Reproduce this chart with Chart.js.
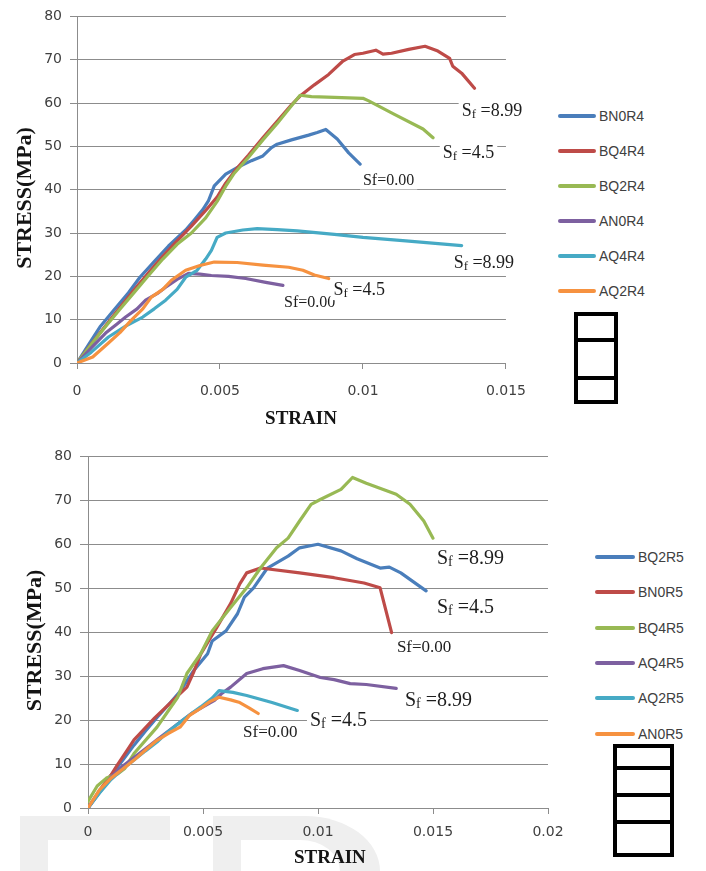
<!DOCTYPE html>
<html>
<head>
<meta charset="utf-8">
<script src="https://cdn.jsdelivr.net/npm/chart.js@4.4.0/dist/chart.umd.min.js"></script>
<style>
  body { margin: 0; background: #fff; }
  #page { position: relative; width: 706px; height: 871px; overflow: hidden; }
  canvas { position: absolute; left: 0; }
  #chartTop { top: 0; }
  #chartBottom { top: 440px; }
  .wm { position: absolute; background: #efefef; }
  .legend-item { position: absolute; height: 16px; font: 14px "Liberation Sans", Arial, sans-serif; color: #404040; line-height: 16px; white-space: nowrap; }
  .legend-item span.swatch { position: absolute; left: 0; top: 6px; height: 4px; border-radius: 2px; }
  .legend-item span.name { position: absolute; top: 0; }
  .cellbox { position: absolute; box-sizing: border-box; border: 4px solid #000; }
  .cellbox div { position: absolute; left: 0; right: 0; height: 4px; background: #000; }
</style>
</head>
<body>
<div id="page">
  <!-- faint watermark behind the lower chart -->
  <div class="wm" style="left:20px;top:816px;width:150px;height:24px"></div>
  <div class="wm" style="left:20px;top:840px;width:28px;height:31px"></div>
  <div class="wm" style="left:213px;top:816px;width:167px;height:55px;border-top-right-radius:75px 55px"></div>
  <div class="wm" style="left:241px;top:840px;width:99px;height:31px;background:#fff;border-top-right-radius:40px 31px"></div>

  <canvas id="chartTop" width="540" height="440"></canvas>
  <canvas id="chartBottom" width="580" height="431"></canvas>

  <div class="cellbox" style="left:574px;top:312px;width:44px;height:92px">
    <div style="top:22px"></div><div style="top:60px"></div>
  </div>
  <div class="cellbox" style="left:613px;top:744px;width:61px;height:113px">
    <div style="top:18px"></div><div style="top:45px"></div><div style="top:72px"></div>
  </div>
</div>
<script>
// ---- data: top chart (R4 specimens) ----
const strainBN0R4 = [0, 0.0004, 0.0008, 0.0013, 0.0018, 0.0022, 0.0027, 0.0032, 0.0038, 0.0041, 0.0044, 0.0046, 0.0048, 0.0052, 0.0056, 0.0061, 0.0065, 0.0068, 0.0070, 0.0075, 0.0081, 0.0084, 0.0087, 0.0091, 0.0095, 0.0099];
const stressBN0R4 = [0, 4.2, 8.3, 12.3, 16.2, 19.8, 23.4, 27, 30.7, 33, 35.4, 37.5, 40.9, 43.6, 45.1, 46.7, 47.8, 49.7, 50.5, 51.5, 52.6, 53.2, 53.9, 51.7, 48.5, 45.9];

const strainBQ4R4 = [0, 0.0005, 0.001, 0.0015, 0.002, 0.0025, 0.003, 0.0035, 0.004, 0.0045, 0.0049, 0.0052, 0.0056, 0.006, 0.0065, 0.007, 0.0075, 0.0078, 0.0083, 0.0088, 0.0093, 0.0097, 0.0100, 0.01045, 0.0107, 0.0110, 0.0116, 0.01217, 0.01262, 0.01303, 0.01314, 0.01345, 0.0139];
const stressBQ4R4 = [0, 4.4, 8.6, 12.8, 16.9, 20.8, 24.6, 28.2, 31.6, 35.2, 38.3, 41.5, 45, 48, 52, 55.8, 59.6, 61.6, 64.2, 66.6, 69.7, 71.2, 71.5, 72.2, 71.3, 71.5, 72.4, 73.1, 72, 70.3, 68.5, 66.9, 63.4];

const strainBQ2R4 = [0, 0.0005, 0.001, 0.0015, 0.002, 0.0025, 0.003, 0.0035, 0.004, 0.0045, 0.0049, 0.0052, 0.0055, 0.006, 0.0065, 0.007, 0.0075, 0.0078, 0.0082, 0.009, 0.0100, 0.0102, 0.0111, 0.0121, 0.01245];
const stressBQ2R4 = [0, 4.3, 8.4, 12.4, 16.3, 20.2, 24, 27.4, 30, 33.5, 37.3, 40.8, 43.8, 47.5, 51.5, 55.3, 59.4, 61.8, 61.5, 61.3, 61.1, 60.5, 57.4, 54, 52];

const strainAN0R4 = [0, 0.0005, 0.001, 0.0014, 0.0017, 0.0021, 0.0024, 0.0028, 0.0031, 0.0035, 0.0039, 0.0043, 0.0047, 0.0053, 0.0059, 0.0066, 0.0072];
const stressAN0R4 = [0, 3.5, 6.9, 9, 10.6, 12.5, 14.5, 16, 17.5, 19.3, 20.7, 20.5, 20.2, 20, 19.5, 18.6, 17.9];

const strainAQ4R4 = [0, 0.0005, 0.0011, 0.0017, 0.0023, 0.0027, 0.0031, 0.0035, 0.0038, 0.0042, 0.0045, 0.0047, 0.0049, 0.0052, 0.0058, 0.0063, 0.0070, 0.0077, 0.0090, 0.0100, 0.0115, 0.01345];
const stressAQ4R4 = [0, 2.5, 6, 8.5, 10.6, 12.5, 14.5, 17, 19.8, 21.4, 24, 26, 29, 30, 30.7, 31, 30.8, 30.5, 29.7, 29, 28.2, 27.1];

const strainAQ2R4 = [0, 0.00055, 0.0011, 0.0015, 0.0019, 0.0023, 0.0026, 0.003, 0.0033, 0.0038, 0.0043, 0.0048, 0.0056, 0.0065, 0.0074, 0.0079, 0.0083, 0.0088];
const stressAQ2R4 = [0, 1.4, 4.6, 7, 9.9, 12.5, 15.2, 17, 19.1, 21.4, 22.5, 23.3, 23.2, 22.6, 22.1, 21.4, 20.3, 19.5];

// ---- data: bottom chart (R5 specimens) ----
const strainBQ2R5 = [0, 0.0005, 0.001, 0.0015, 0.002, 0.0025, 0.003, 0.0035, 0.004, 0.0046, 0.0052, 0.0054, 0.006, 0.0065, 0.0068, 0.0072, 0.0078, 0.0087, 0.0092, 0.0100, 0.0110, 0.0117, 0.0127, 0.0131, 0.0136, 0.0147];
const stressBQ2R5 = [0, 3.8, 7.4, 10.8, 14.3, 17.5, 20.6, 23.5, 26.5, 31.3, 35.1, 38, 40.3, 44.2, 48, 50.1, 54.6, 57.3, 59.2, 60, 58.5, 56.7, 54.6, 54.8, 53.5, 49.4];

const strainBN0R5 = [0, 0.0005, 0.001, 0.0013, 0.0017, 0.002, 0.0024, 0.0029, 0.0034, 0.0039, 0.0043, 0.0046, 0.0049, 0.0053, 0.0056, 0.0062, 0.0066, 0.0069, 0.0075, 0.0092, 0.0107, 0.0120, 0.0127, 0.0132];
const stressBN0R5 = [0, 4, 7.5, 10, 13.1, 15.5, 17.7, 20.5, 23, 25.5, 27.5, 31, 35, 38.5, 41.1, 46.5, 51, 53.5, 54.6, 53.5, 52.4, 51.2, 50.1, 39.9];

const strainBQ4R5 = [0, 0.0004, 0.0008, 0.0013, 0.0016, 0.002, 0.003, 0.0039, 0.0043, 0.0049, 0.0054, 0.0062, 0.0069, 0.0075, 0.0082, 0.0087, 0.0092, 0.0097, 0.0101, 0.0110, 0.0115, 0.0121, 0.0134, 0.0140, 0.0146, 0.0150];
const stressBQ4R5 = [1.5, 5, 6.8, 7.8, 9, 12.4, 18.4, 25.2, 30.6, 35.1, 40.3, 45.6, 50.1, 54.6, 59.2, 61.4, 65.3, 69.1, 70.2, 72.5, 75.2, 73.9, 71.4, 69.1, 65.3, 61.4];

const strainAQ4R5 = [0, 0.0005, 0.001, 0.0015, 0.002, 0.0025, 0.003, 0.0035, 0.004, 0.0045, 0.005, 0.0055, 0.0058, 0.0062, 0.0069, 0.0076, 0.0085, 0.0092, 0.0101, 0.0107, 0.0114, 0.0121, 0.0134];
const stressAQ4R5 = [0, 3.5, 7, 9.5, 11.5, 13.5, 15.5, 17.5, 19.5, 21.5, 23, 24.5, 26, 27.5, 30.6, 31.7, 32.4, 31.3, 29.7, 29.2, 28.3, 28.1, 27.2];

const strainAQ2R5 = [0, 0.0005, 0.001, 0.0015, 0.002, 0.0025, 0.003, 0.0034, 0.004, 0.0045, 0.0049, 0.0054, 0.0057, 0.0063, 0.0069, 0.0080, 0.0091];
const stressAQ2R5 = [0, 3.4, 6.5, 8.8, 10.9, 13, 15, 17, 19.5, 21.5, 23, 25, 26.7, 26.3, 25.6, 24, 22.2];

const strainAN0R5 = [0, 0.0005, 0.001, 0.0015, 0.002, 0.0025, 0.003, 0.0035, 0.004, 0.0044, 0.0049, 0.0053, 0.0057, 0.0062, 0.0066, 0.0070, 0.0074];
const stressAN0R5 = [0, 4.1, 6.8, 8.8, 10.9, 13.2, 15.4, 17, 18.4, 21, 22.7, 24.2, 25.2, 24.6, 24, 22.8, 21.5];

// ---- tick labels ----
const stressTicks = ['0', '10', '20', '30', '40', '50', '60', '70', '80'];
const strainTicksTop = ['0', '0.005', '0.01', '0.015'];
const strainTicksBottom = ['0', '0.005', '0.01', '0.015', '0.02'];

// Sf labels next to the curve ends (strain, stress)
const notesTop = [
  { x: 0.0100, y: 42.1, text: '=0.00', sub: false, size: 16 },
  { x: 0.00724, y: 13.8, text: '=0.00', sub: false, size: 16 },
  { x: 0.01345, y: 58.2, text: '=8.99', sub: true, size: 18 },
  { x: 0.01279, y: 48.3, text: '=4.5', sub: true, size: 18 },
  { x: 0.01317, y: 23.0, text: '=8.99', sub: true, size: 18 },
  { x: 0.00897, y: 16.8, text: '=4.5', sub: true, size: 18 }
];
const notesBottom = [
  { x: 0.01343, y: 36.5, text: '=0.00', sub: false, size: 17 },
  { x: 0.00674, y: 17.2, text: '=0.00', sub: false, size: 17 },
  { x: 0.01517, y: 56.7, text: '=8.99', sub: true, size: 20 },
  { x: 0.01517, y: 45.6, text: '=4.5', sub: true, size: 20 },
  { x: 0.01378, y: 24.5, text: '=8.99', sub: true, size: 20 },
  { x: 0.00965, y: 19.9, text: '=4.5', sub: true, size: 20 }
];

const colors = {
  blue: '#4a7ebb', red: '#be4b48', green: '#98b954',
  purple: '#7d60a0', teal: '#46aac5', orange: '#f69240'
};

Chart.defaults.font.family = '"DejaVu Sans", sans-serif';

function series(label, color, strain, stress, i) {
  return {
    label: label,
    borderColor: color,
    backgroundColor: color,
    data: strain.map((s, k) => ({ x: s, y: stress[k] })),
    order: 10 - i
  };
}

function sfNotes(notes) {
  return {
    id: 'sfNotes',
    afterDatasetsDraw(chart) {
      const { ctx } = chart;
      const xs = chart.scales.x, ys = chart.scales.y;
      notes.forEach(n => {
        const px = xs.getPixelForValue(n.x);
        const py = ys.getPixelForValue(n.y);
        const big = n.size + 'px "Liberation Serif", serif';
        const small = Math.round(n.size * 0.7) + 'px "Liberation Serif", serif';
        const rest = n.sub ? ' ' + n.text : n.text;
        ctx.save();
        ctx.textBaseline = 'middle';
        ctx.font = big;
        const wS = ctx.measureText('S').width;
        const wR = ctx.measureText(rest).width;
        ctx.font = n.sub ? small : big;
        const wF = ctx.measureText('f').width;
        ctx.fillStyle = '#fff';
        ctx.fillRect(px - 3, py - n.size * 0.55, wS + wF + wR + 6, n.size * 1.1);
        ctx.fillStyle = '#1e1e1e';
        ctx.font = big;
        ctx.fillText('S', px, py);
        ctx.fillText(rest, px + wS + wF, py);
        ctx.font = n.sub ? small : big;
        ctx.fillText('f', px + wS, n.sub ? py + n.size * 0.18 : py);
        ctx.restore();
      });
    }
  };
}

function makeOptions(cfg) {
  const gridGray = '#8c8c8c';
  return {
    responsive: false,
    animation: false,
    devicePixelRatio: 1,
    layout: { padding: { left: 0, top: cfg.top, right: cfg.right, bottom: 0 } },
    plugins: { legend: { display: false }, tooltip: { enabled: false } },
    elements: {
      point: { radius: 0 },
      line: { tension: 0, borderWidth: 3.2, borderCapStyle: 'round', borderJoinStyle: 'round' }
    },
    scales: {
      x: {
        type: 'linear', min: 0, max: cfg.xMax,
        afterFit: s => { s.height = cfg.xHeight; },
        ticks: { stepSize: 0.005, padding: cfg.xPad, color: '#404040', font: { size: 14 },
                 callback: (v, i) => cfg.xLabels[i] },
        grid: { drawOnChartArea: false, tickLength: 6, color: gridGray },
        border: { color: gridGray },
        // leading spaces nudge the centred title right, as in the original
        title: { display: true, text: cfg.xTitle, color: '#141414',
                 font: { family: '"Liberation Serif", serif', size: 19, weight: 'bold' },
                 padding: { top: 0, bottom: cfg.xTitlePad } }
      },
      y: {
        min: 0, max: 80,
        afterFit: s => { s.width = cfg.yWidth; },
        ticks: { stepSize: 10, padding: 8, color: '#404040', font: { size: 14 },
                 callback: (v, i) => stressTicks[i] },
        grid: { color: gridGray, tickLength: cfg.yTick },
        border: { color: gridGray },
        // trailing spaces push the rotated title slightly down
        title: { display: true, text: 'STRESS(MPa)   ', color: '#141414',
                 font: { family: '"Liberation Serif", serif', size: 22, weight: 'bold' },
                 padding: { top: cfg.yTitlePad, bottom: 0 } }
      }
    }
  };
}

const topSets = [
  series('BN0R4', colors.blue, strainBN0R4, stressBN0R4, 0),
  series('BQ4R4', colors.red, strainBQ4R4, stressBQ4R4, 1),
  series('BQ2R4', colors.green, strainBQ2R4, stressBQ2R4, 2),
  series('AN0R4', colors.purple, strainAN0R4, stressAN0R4, 3),
  series('AQ4R4', colors.teal, strainAQ4R4, stressAQ4R4, 4),
  series('AQ2R4', colors.orange, strainAQ2R4, stressAQ2R4, 5)
];
const bottomSets = [
  series('BQ2R5', colors.blue, strainBQ2R5, stressBQ2R5, 0),
  series('BN0R5', colors.red, strainBN0R5, stressBN0R5, 1),
  series('BQ4R5', colors.green, strainBQ4R5, stressBQ4R5, 2),
  series('AQ4R5', colors.purple, strainAQ4R5, stressAQ4R5, 3),
  series('AQ2R5', colors.teal, strainAQ2R5, stressAQ2R5, 4),
  series('AN0R5', colors.orange, strainAN0R5, stressAN0R5, 5)
];

new Chart(document.getElementById('chartTop'), {
  type: 'line',
  data: { datasets: topSets },
  options: makeOptions({ top: 15, right: 28, xMax: 0.015, xHeight: 77, xPad: 14, xTitlePad: 10,
                         xTitle: '    STRAIN', xLabels: strainTicksTop, yWidth: 77, yTick: 7, yTitlePad: 12 }),
  plugins: [sfNotes(notesTop)]
});

new Chart(document.getElementById('chartBottom'), {
  type: 'line',
  data: { datasets: bottomSets },
  options: makeOptions({ top: 15, right: 32, xMax: 0.02, xHeight: 63, xPad: 10, xTitlePad: 2,
                         xTitle: '     STRAIN', xLabels: strainTicksBottom, yWidth: 88, yTick: 8, yTitlePad: 22 }),
  plugins: [sfNotes(notesBottom)]
});

// legends on the right, built from the datasets
function buildLegend(sets, lineX, lineW, firstY, gap) {
  const page = document.getElementById('page');
  sets.forEach((ds, i) => {
    const item = document.createElement('div');
    item.className = 'legend-item';
    item.style.left = lineX + 'px';
    item.style.top = (firstY + i * gap - 8) + 'px';
    item.innerHTML = '<span class="swatch" style="width:' + lineW + 'px;background:' + ds.borderColor + '"></span>' +
                     '<span class="name" style="left:' + (lineW + 3) + 'px">' + ds.label + '</span>';
    page.appendChild(item);
  });
}
buildLegend(topSets, 558, 38, 116, 35);
buildLegend(bottomSets, 595, 40, 557, 35.3);
</script>
</body>
</html>
